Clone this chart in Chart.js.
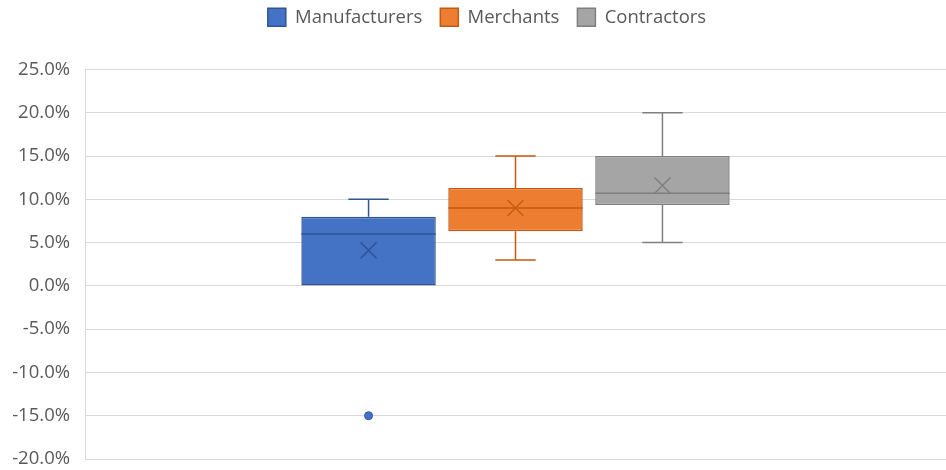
<!DOCTYPE html>
<html>
<head>
<meta charset="utf-8">
<script src="https://cdn.jsdelivr.net/npm/chart.js@4/dist/chart.umd.min.js"></script>
<style>
html,body{margin:0;padding:0;background:#fff;}
#wrap{width:946px;height:470px;position:relative;}
</style>
</head>
<body>
<div id="wrap"><canvas id="c" width="946" height="470"></canvas></div>
<script>
const seriesNames = ['Manufacturers', 'Merchants', 'Contractors'];
const mins      = [0.0, 3.0, 5.0];
const q1s       = [0.0, 6.3, 9.35];
const medians   = [6.0, 9.0, 10.7];
const q3s       = [8.0, 11.3, 15.0];
const maxs      = [10.0, 15.0, 20.0];
const means     = [4.1, 9.0, 11.6];
const outliers  = [[-15.0], [], []];
const yTicks    = [-20, -15, -10, -5, 0, 5, 10, 15, 20, 25];

const fills   = ['#4472C4', '#ED7D31', '#A5A5A5'];
const borders = ['#2F5597', '#C55A11', '#7F7F7F'];

const datasets = seriesNames.map((name, i) => ({
  label: name,
  data: [[q1s[i], q3s[i]]],
  backgroundColor: fills[i],
  borderColor: borders[i],
  borderWidth: 1.5,
  borderSkipped: false,
  barPercentage: 0.915,
  categoryPercentage: 0.512
}));

const boxPlugin = {
  id: 'boxExtras',
  afterDatasetsDraw(chart) {
    const ctx = chart.ctx;
    const y = chart.scales.y;
    chart.data.datasets.forEach((ds, i) => {
      const meta = chart.getDatasetMeta(i);
      if (meta.hidden) return;
      const bar = meta.data[0];
      const x = bar.x, w = bar.width;
      const cap = w * 0.3;
      ctx.save();
      ctx.strokeStyle = borders[i];
      ctx.lineWidth = 1.5;
      const pMax = y.getPixelForValue(maxs[i]);
      const pQ3 = y.getPixelForValue(q3s[i]);
      const pQ1 = y.getPixelForValue(q1s[i]);
      const pMin = y.getPixelForValue(mins[i]);
      ctx.beginPath();
      if (maxs[i] > q3s[i]) {
        ctx.moveTo(x, pQ3); ctx.lineTo(x, pMax);
        ctx.moveTo(x - cap / 2, pMax); ctx.lineTo(x + cap / 2, pMax);
      }
      if (mins[i] < q1s[i]) {
        ctx.moveTo(x, pQ1); ctx.lineTo(x, pMin);
        ctx.moveTo(x - cap / 2, pMin); ctx.lineTo(x + cap / 2, pMin);
      }
      const pMed = y.getPixelForValue(medians[i]);
      ctx.moveTo(x - w / 2, pMed); ctx.lineTo(x + w / 2, pMed);
      ctx.stroke();
      const pMean = y.getPixelForValue(means[i]);
      const s = 8;
      ctx.beginPath();
      ctx.moveTo(x - s, pMean - s); ctx.lineTo(x + s, pMean + s);
      ctx.moveTo(x - s, pMean + s); ctx.lineTo(x + s, pMean - s);
      ctx.stroke();
      outliers[i].forEach(v => {
        ctx.beginPath();
        ctx.arc(x, y.getPixelForValue(v), 4, 0, Math.PI * 2);
        ctx.fillStyle = fills[i];
        ctx.fill();
        ctx.lineWidth = 1;
        ctx.stroke();
      });
      ctx.restore();
    });
  }
};

const legendTweak = {
  id: 'legendTweak',
  afterInit(chart) {
    const lg = chart.legend;
    if (!lg) return;
    const origFit = lg.fit;
    lg.fit = function () { origFit.call(this); this.height += 33; };
    const origDraw = lg.draw;
    lg.draw = function (...args) {
      const ctx = this.ctx;
      ctx.save();
      ctx.translate(14, 0);
      origDraw.apply(this, args);
      ctx.restore();
    };
  }
};

new Chart(document.getElementById('c'), {
  type: 'bar',
  data: { labels: [''], datasets },
  options: {
    responsive: false,
    animation: false,
    layout: { padding: { left: 0, right: 0, top: -10, bottom: 11 } },
    plugins: {
      legend: {
        position: 'top',
        labels: {
          boxWidth: 18, boxHeight: 18,
          color: '#595959',
          font: { family: 'Open Sans', size: 18.5 },
          padding: 18
        }
      },
      tooltip: { enabled: false }
    },
    scales: {
      x: { display: false, grid: { display: false } },
      y: {
        min: -20, max: 25,
        afterBuildTicks(scale) { scale.ticks = yTicks.map(v => ({ value: v })); },
        afterFit(scale) { scale.width = 85; scale.paddingTop = 0; scale.paddingBottom = 0; },
        ticks: {
          color: '#595959',
          font: { family: 'Open Sans', size: 18.5 },
          padding: 15,
          callback: v => v.toFixed(1) + '%'
        },
        grid: { color: '#D9D9D9', lineWidth: 1, drawTicks: false },
        border: { color: '#D9D9D9' }
      }
    }
  },
  plugins: [boxPlugin, legendTweak]
});
</script>
</body>
</html>
